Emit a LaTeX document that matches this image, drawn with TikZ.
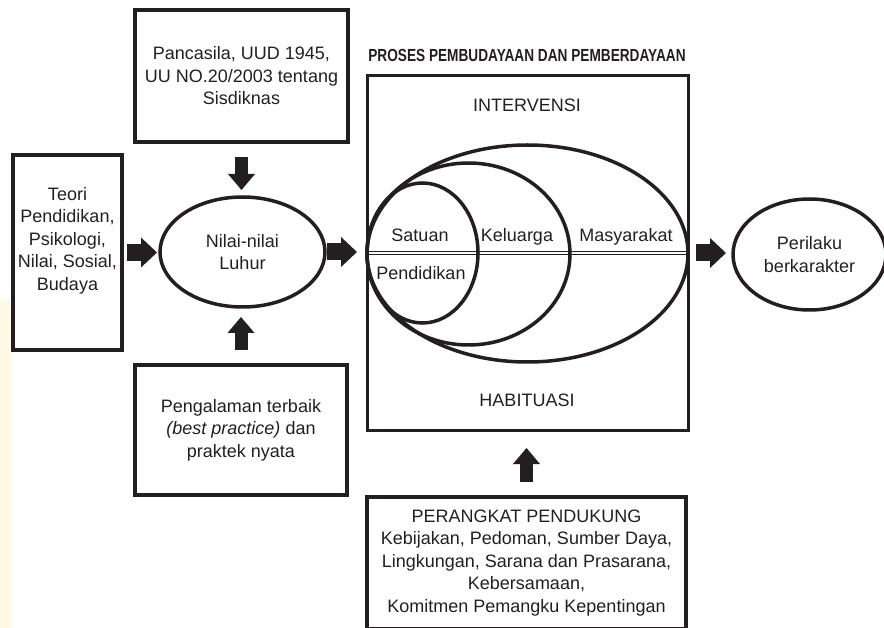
\documentclass[tikz,border=0pt]{standalone}
\usepackage{fontspec}
\setmainfont{Liberation Sans}
\newfontfamily\condensedfont[FakeStretch=0.78]{Liberation Sans}
\usetikzlibrary{arrows.meta,shapes.geometric}
\definecolor{ink}{HTML}{231F20}
\definecolor{paper}{HTML}{FFFAE6}
\newcommand\bodyfont{\fontsize{18}{22.5}\selectfont}

\begin{document}
\begin{tikzpicture}[x=1pt,y=-1pt,
  box/.style={draw=ink, line width=4pt, outer sep=0pt, inner sep=0pt,
    align=center, font=\bodyfont, text=ink},
  frame/.style={draw=ink, line width=3pt, outer sep=0pt, inner sep=0pt},
  oval/.style={ellipse, draw=ink, line width=3.5pt, outer sep=0pt, inner sep=0pt,
    align=center, font=\bodyfont, text=ink},
  txt/.style={inner sep=0pt, align=center, font=\bodyfont, text=ink},
  flowh/.style={draw=ink, line width=17pt,
    -{Triangle[width=30pt,length=16pt,line width=0pt]}},
  flowv/.style={draw=ink, line width=13pt,
    -{Triangle[width=27pt,length=16pt,line width=0pt]}},
]
\useasboundingbox (0,0) rectangle (884,628);
\clip (0,0) rectangle (884,628);
\fill[paper] (0,300) rectangle (12,628);

% sources feeding the core values
\node[box, minimum width=213pt, minimum height=132pt] (src) at (241.5,76)
  {Pancasila, UUD 1945,\\UU NO.20/2003 tentang\\Sisdiknas};
\node[box, minimum width=109pt, minimum height=195pt] (theory) at (67.5,252.5) {};
\node[txt] (theory-text) at (67.5,240.5)
  {Teori\\Pendidikan,\\Psikologi,\\Nilai, Sosial,\\Budaya};
\node[box, minimum width=212pt, minimum height=130pt] (practice) at (241,430)
  {Pengalaman terbaik\\\textit{(best practice)} dan\\praktek nyata};
\node[oval, minimum width=165pt, minimum height=110pt] (values) at (242.5,252)
  {Nilai-nilai\\Luhur};

% process block
\node[inner sep=0pt, text=ink,
  font=\condensedfont\fontsize{17.5}{19}\selectfont\bfseries] (title) at (527,55)
  {PROSES PEMBUDAYAAN DAN PEMBERDAYAAN};
\node[frame, minimum width=321pt, minimum height=354pt] (process) at (527.5,253) {};
\draw[draw=ink, line width=1.3pt, double=white, double distance=1.4pt,
  shorten <=1.5pt, shorten >=1.5pt] (process.west) -- (process.east);
\node[oval, minimum width=321pt, minimum height=217pt] (society) at (527.5,253.5) {};
\node[oval, minimum width=203pt, minimum height=182pt] (family) at (468.5,254) {};
\node[oval, minimum width=111pt, minimum height=140pt] (school) at (422.5,253) {};
\node[txt, anchor=base] (school-top) at (420,242) {Satuan};
\node[txt, anchor=base] (school-bottom) at (421,280) {Pendidikan};
\node[txt, anchor=base] (family-text) at (517,242) {Keluarga};
\node[txt, anchor=base] (society-text) at (626,242) {Masyarakat};
\node[txt] (intervention) at (527,105) {INTERVENSI};
\node[txt] (habituation) at (527,400) {HABITUASI};

% outcome
\node[oval, minimum width=153pt, minimum height=111pt] (behaviour) at (809.5,254.5)
  {Perilaku\\berkarakter};

% supporting instruments
\node[box, minimum width=319pt, minimum height=132pt] (support) at (526.5,563)
  {PERANGKAT PENDUKUNG\\Kebijakan, Pedoman, Sumber Daya,\\Lingkungan, Sarana dan Prasarana,\\Kebersamaan,\\Komitmen Pemangku Kepentingan};

% block arrows
\draw[flowh, shorten <=5pt, shorten >=3pt] (theory.east) -- (theory.east -| values.west);
\draw[flowh, shorten <=2pt, shorten >=10pt] (values.east) -- (values.east -| process.west);
\draw[flowh, shorten <=8pt, shorten >=7pt] (process.east) -- (process.east -| behaviour.west);
\draw[flowv, shorten <=15pt, shorten >=7pt] (src.south) -- (src.south |- values.north);
\draw[flowv, shorten <=15pt, shorten >=10pt] (practice.north) -- (practice.north |- values.south);
\draw[flowv, shorten <=15pt, shorten >=18pt] (support.north) -- (support.north |- process.south);
\end{tikzpicture}
\end{document}
